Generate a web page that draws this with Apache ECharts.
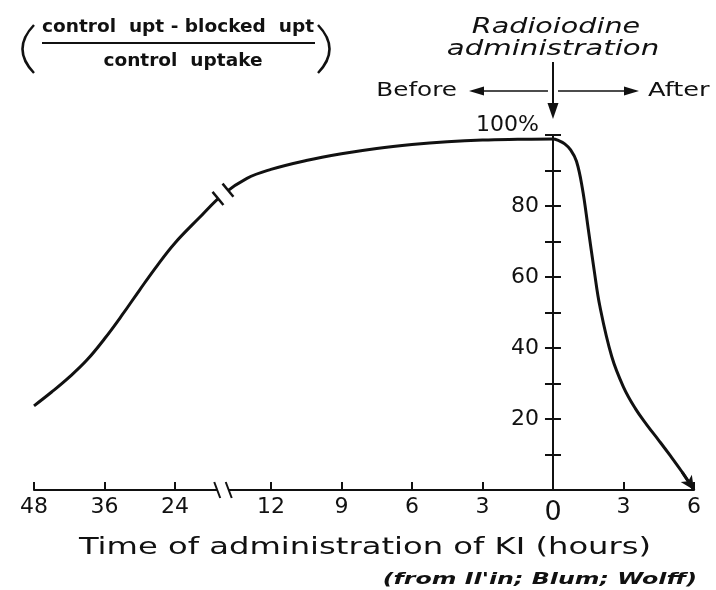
<!DOCTYPE html>
<html><head><meta charset="utf-8">
<script src="https://cdn.jsdelivr.net/npm/echarts@6/dist/echarts.min.js"></script>
<style>html,body{margin:0;padding:0;background:#fff}#c{width:716px;height:590px}</style>
</head><body><div id="c"></div>
<script>
// Hours of KI administration BEFORE radioiodine, and % blocking
const beforeHours = [48,45,42,39,36,33,30,27,24,21,18,15,12,10.5,9,7.5,6,4.5,3,1.5,0];
const beforePct   = [23.7,27.6,31.8,36.6,42.6,49.3,56.4,63.3,69.6,76.6,83.3,87.8,90.3,92.8,94.7,96.2,97.3,98.1,98.6,98.8,98.9];
// Hours of KI administration AFTER radioiodine, and % blocking
const afterHours = [0.25,0.5,0.75,1,1.25,1.5,1.75,2,2.5,3,3.5,4,4.5,5,5.5,6];
const afterPct   = [98.4,97.5,95.8,92.6,85.0,73.6,62.0,51.6,37.6,29.0,23.0,18.3,14.0,9.6,5.0,0];
// x ticks (signed hours: negative = before) and their labels
const xTickHours  = [-48,-36,-24,-12,-9,-6,-3,0,3,6];
const xTickLabels = ['48','36','24','12','9','6','3','0','3','6'];
const yLabelValues = [20,40,60,80,100];
const breakHour = 18; // axis break (hours before)

const FONT = 'DejaVu Sans';
const INK = '#111';
const BREAK_UNITS = 1.36;
// broken, piecewise-linear time scale (signed hours -> axis units)
function hoursToAxis(h){
  if (h >= 0) return h/3;
  const t = -h;
  if (t <= 12) return -t/3;
  if (t <= 24) return -4 - (t-12)*BREAK_UNITS/12;
  return -4 - BREAK_UNITS - (t-24)/12;
}
const lineData = [];
beforeHours.forEach((h,i)=>lineData.push([hoursToAxis(-h), beforePct[i]]));
afterHours.forEach((h,i)=>lineData.push([hoursToAxis(h), afterPct[i]]));
const n = lineData.length;
const tickPos = xTickHours.map(hoursToAxis);
const bi = beforeHours.indexOf(breakHour);
const breakPct = beforePct[bi];

const chart = echarts.init(document.getElementById('c'), null, {renderer:'canvas'});
const yCommon = {type:'value', min:0, max:100, interval:10, position:'left', splitLine:{show:false}};
const option = {
  animation:false,
  backgroundColor:'#fff',
  textStyle:{fontFamily:FONT},
  grid:{left:34, right:22, top:135, bottom:100, containLabel:false, outerBoundsMode:'none'},
  xAxis:{
    type:'value', min:hoursToAxis(-48), max:hoursToAxis(6),
    axisLine:{onZero:false, lineStyle:{color:INK, width:2}},
    axisTick:{show:true, inside:true, length:8, customValues:tickPos, lineStyle:{color:INK, width:2}},
    axisLabel:{
      customValues:tickPos, margin:6, fontSize:22, color:INK, fontFamily:FONT,
      formatter:function(v){
        let k=-1; tickPos.forEach((p,i)=>{ if(Math.abs(p-v)<1e-6) k=i; });
        if(k<0) return '';
        return xTickHours[k]===0 ? '{o|'+xTickLabels[k]+'}' : xTickLabels[k];
      },
      rich:{o:{fontSize:27, color:INK, fontFamily:FONT, padding:[3,0,0,0]}}
    },
    splitLine:{show:false}
  },
  yAxis:[Object.assign({}, yCommon, {
    axisLine:{show:true, onZero:false, lineStyle:{color:INK, width:2}},
    axisTick:{show:true, length:8, lineStyle:{color:INK, width:2}},
    axisLabel:{
      margin:14, fontSize:22, color:INK, fontFamily:FONT,
      formatter:function(v){
        if(yLabelValues.indexOf(v)<0) return '';
        return v===100 ? '{t|'+v+'%}' : String(v);
      },
      rich:{t:{fontSize:22, color:INK, fontFamily:FONT, padding:[0,0,20,0]}}
    }
  }), Object.assign({}, yCommon, {
    axisLine:{show:false, onZero:false},
    axisTick:{show:true, inside:true, length:8, lineStyle:{color:INK, width:2}},
    axisLabel:{show:false}
  })],
  series:[{
    type:'line', data:lineData, smooth:0.4, symbol:'none',
    lineStyle:{color:INK, width:3}, z:3, clip:false,
    markLine:{
      silent:true, symbol:['none','arrow'], symbolSize:[10,14], animation:false,
      lineStyle:{color:INK, width:3, type:'solid'}, label:{show:false},
      data:[[{coord:lineData[n-2]},{coord:lineData[n-1]}]]
    }
  },{
    type:'custom', coordinateSystem:'cartesian2d', clip:false, z:10, silent:true,
    data:[[hoursToAxis(-breakHour), breakPct]],
    renderItem:function(params, api){
      const c = api.coord([api.value(0), api.value(1)]);
      const a = api.coord(lineData[bi-1]);
      const b = api.coord(lineData[bi+1]);
      let dx=b[0]-a[0], dy=b[1]-a[1]; const L=Math.hypot(dx,dy); dx/=L; dy/=L;
      const nx=dy, ny=-dx; const g=6.5, s=8.5;
      const kids=[{type:'line', shape:{x1:c[0]-g*dx,y1:c[1]-g*dy,x2:c[0]+g*dx,y2:c[1]+g*dy}, style:{stroke:'#fff', lineWidth:8, lineCap:'butt'}}];
      [-1,1].forEach(sg=>{
        const px=c[0]+sg*g*dx, py=c[1]+sg*g*dy;
        kids.push({type:'line', shape:{x1:px-s*nx,y1:py-s*ny,x2:px+s*nx,y2:py+s*ny}, style:{stroke:INK, lineWidth:2.5}});
      });
      return {type:'group', children:kids};
    }
  },{
    type:'custom', coordinateSystem:'cartesian2d', clip:false, z:10, silent:true,
    data:[[hoursToAxis(-breakHour), 0]],
    renderItem:function(params, api){
      const c = api.coord([api.value(0), api.value(1)]);
      const g=5.75;
      const kids=[{type:'rect', shape:{x:c[0]-g, y:c[1]-2, width:2*g, height:4}, style:{fill:'#fff'}}];
      [-1,1].forEach(sg=>{
        const px=c[0]+sg*g;
        kids.push({type:'line', shape:{x1:px-3,y1:c[1]-8,x2:px+3,y2:c[1]+8}, style:{stroke:INK, lineWidth:2}});
      });
      return {type:'group', children:kids};
    }
  }]
};
chart.setOption(option);

// place the y axis at the moment of radioiodine administration (x = 0)
const x0 = chart.convertToPixel({xAxisIndex:0}, 0);
const xLeft = chart.convertToPixel({xAxisIndex:0}, hoursToAxis(-48));
chart.setOption({yAxis:[{offset:-(x0-xLeft)},{offset:-(x0-xLeft)}]});

const txt = (text, x, y, o) => Object.assign({type:'text', x:x, y:y, silent:true,
  style:Object.assign({text:text, fill:INK, fontFamily:FONT, fontSize:18, align:'center', verticalAlign:'middle', textAlign:'center', textVerticalAlign:'middle'}, o.style||{})}, o.el||{});
chart.setOption({graphic:[
  // y-axis quantity
  {type:'bezierCurve', shape:{x1:34,y1:25,x2:34,y2:73,cpx1:11,cpy1:49}, style:{stroke:INK, lineWidth:2.5, fill:null}},
  {type:'bezierCurve', shape:{x1:318,y1:25,x2:318,y2:73,cpx1:341,cpy1:49}, style:{stroke:INK, lineWidth:2.5, fill:null}},
  txt('control  upt - blocked  upt', 178, 28, {style:{fontSize:17, fontWeight:'bold'}, el:{scaleX:1.09}}),
  {type:'line', shape:{x1:42,y1:43,x2:315,y2:43}, style:{stroke:INK, lineWidth:2}},
  txt('control  uptake', 183, 62, {style:{fontSize:17, fontWeight:'bold'}, el:{scaleX:1.09}}),
  // radioiodine annotation
  txt('Radioiodine', x0+3, 27, {style:{fontSize:22, fontStyle:'italic'}, el:{scaleX:1.3}}),
  txt('administration', x0, 49, {style:{fontSize:22, fontStyle:'italic'}, el:{scaleX:1.33}}),
  {type:'line', shape:{x1:x0,y1:62,x2:x0,y2:106}, style:{stroke:INK, lineWidth:2}},
  {type:'polygon', shape:{points:[[x0-5.5,103],[x0+5.5,103],[x0,119]]}, style:{fill:INK}},
  {type:'line', shape:{x1:x0-5,y1:91,x2:480,y2:91}, style:{stroke:INK, lineWidth:1.6}},
  {type:'polygon', shape:{points:[[484,86.5],[484,95.5],[469,91]]}, style:{fill:INK}},
  {type:'line', shape:{x1:x0+5,y1:91,x2:628,y2:91}, style:{stroke:INK, lineWidth:1.6}},
  {type:'polygon', shape:{points:[[624,86.5],[624,95.5],[639,91]]}, style:{fill:INK}},
  txt('Before', 457, 91, {style:{fontSize:19, align:'right', textAlign:'right'}, el:{scaleX:1.3}}),
  txt('After', 648, 91, {style:{fontSize:19, align:'left', textAlign:'left'}, el:{scaleX:1.35}}),
  // x-axis title and source
  txt('Time of administration of KI (hours)', 365, 548, {style:{fontSize:23}, el:{scaleX:1.4}}),
  txt("(from Il'in; Blum; Wolff)", 697, 580, {style:{fontSize:15, fontStyle:'italic', fontWeight:'bold', align:'right', textAlign:'right'}, el:{scaleX:1.58}})
]});
</script>
</body></html>
